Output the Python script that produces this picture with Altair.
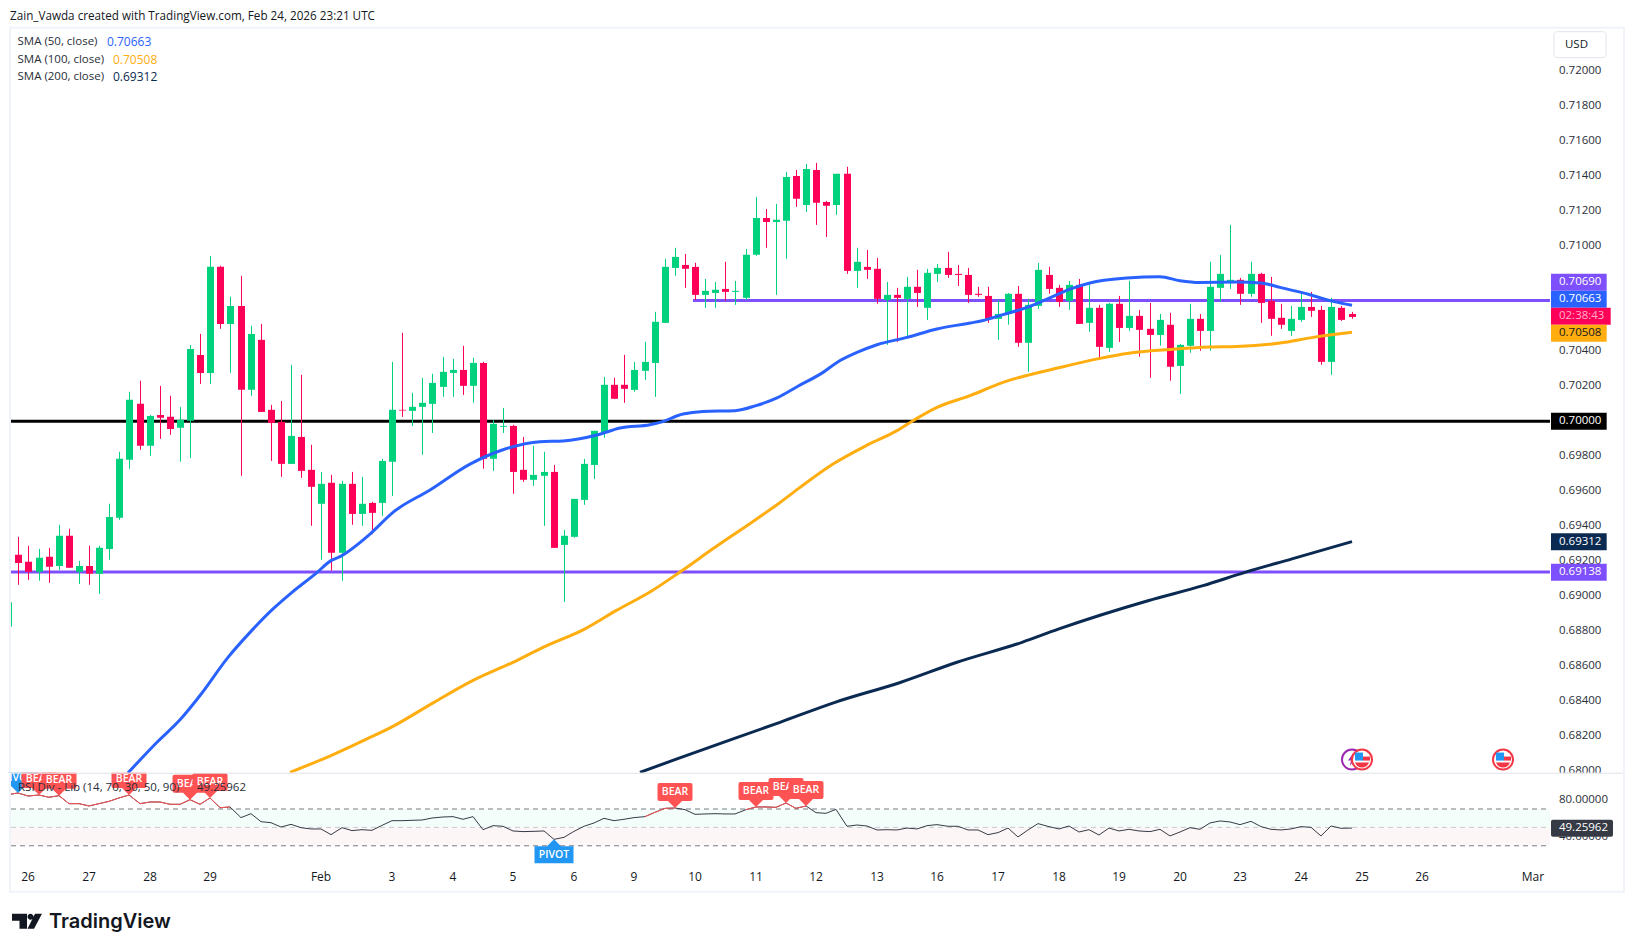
import altair as alt
import pandas as pd

# ---- candles: prices in points (1e-5), bar index -1 .. 132
OPEN = [68826,69236,69196,69139,69225,69173,69345,69139,69173,69128,69270,69448,69779,70099,69859,70036,70025,69962,70002,70379,70276,70882,70556,70659,70179,70465,70065,69996,69756,69910,69722,69528,69648,69248,69642,69470,69533,69533,69768,70065,70059,70082,70099,70196,70276,70293,70202,70333,69785,69968,69973,69722,69665,69688,69710,69293,69339,69550,69750,69933,70208,70208,70179,70288,70333,70562,70876,70893,70882,70722,70733,70756,70739,70705,70951,71162,71139,71145,71402,71236,71436,71253,71236,71414,70859,70882,70871,70693,70722,70699,70768,70648,70842,70876,70842,70836,70728,70716,70585,70613,70728,70448,70659,70836,70762,70688,70779,70562,70648,70419,70671,70533,70602,70528,70493,70551,70316,70431,70585,70516,70762,70791,70808,70728,70842,70688,70591,70516,70579,70653,70636,70339,70648,70613]
HIGH = [68965,69339,69288,69270,69276,69408,69385,69202,69288,69288,69528,69825,70168,70231,70036,70202,70145,70082,70436,70499,70945,70888,70711,70831,70545,70556,70093,70116,70322,70265,69865,69710,69693,69659,69710,69682,69539,69785,70339,70505,70162,70248,70271,70368,70356,70431,70362,70339,70008,70076,69979,69910,69859,69825,69750,69379,69556,69785,69945,70253,70248,70379,70339,70453,70625,70928,70991,70956,70905,70813,70796,70911,70802,70985,71282,71213,71242,71425,71436,71471,71476,71259,71414,71454,70991,70979,70933,70796,70762,70825,70865,70871,70899,70968,70893,70876,70768,70768,70693,70733,70773,70699,70905,70882,70779,70802,70813,70779,70665,70676,70716,70802,70636,70676,70613,70619,70442,70671,70613,70911,70951,71122,70819,70911,70848,70825,70671,70659,70739,70739,70659,70705,70659,70625]
LOW = [68826,69065,69093,69088,69076,69150,69162,69070,69065,69013,69208,69436,69728,69836,69802,69899,69922,69768,69790,70213,70213,70528,70276,69688,70145,70053,69773,69682,69756,69676,69402,69208,69145,69088,69408,69402,69354,69459,69573,70025,69973,69808,69933,70139,70139,70150,70105,69728,69716,69933,69585,69653,69630,69402,69276,68967,69333,69522,69670,69905,70128,70105,70168,70236,70139,70562,70831,70762,70693,70648,70648,70688,70665,70693,70945,70991,70722,70928,71225,71196,71122,71053,71179,70842,70762,70813,70671,70436,70453,70476,70653,70579,70796,70819,70773,70676,70711,70562,70465,70551,70425,70282,70642,70728,70653,70636,70556,70511,70351,70396,70453,70516,70368,70248,70431,70231,70156,70391,70402,70402,70682,70756,70665,70711,70562,70488,70528,70488,70568,70596,70322,70265,70573,70585]
CLOSE = [68965,69190,69139,69219,69168,69345,69162,69173,69128,69276,69453,69785,70122,69859,70030,70019,69956,70008,70413,70276,70882,70556,70659,70179,70499,70053,69990,69756,69916,69716,69625,69642,69248,69642,69470,69528,69476,69773,70065,70061,70082,70105,70219,70282,70293,70202,70333,69785,69985,69973,69710,69665,69693,69710,69276,69345,69556,69756,69945,70208,70128,70185,70293,70339,70568,70882,70939,70871,70722,70745,70751,70739,70745,70951,71162,71139,71151,71396,71271,71442,71248,71231,71414,70859,70911,70865,70699,70722,70705,70768,70733,70848,70876,70836,70836,70722,70722,70585,70613,70728,70448,70665,70865,70756,70682,70779,70556,70648,70425,70671,70533,70602,70522,70493,70579,70311,70436,70585,70516,70768,70842,70808,70728,70842,70676,70585,70551,70585,70653,70631,70339,70653,70579,70596]

# ---- moving averages: (bar index, price in points)
SMA50_X = [10.9,13.7,16.0,18.0,20.8,22.9,25.2,27.1,29.5,31.0,31.9,34.8,37.1,40.8,44.7,48.0,51.7,53.9,57.3,59.6,62.5,63.5,65.8,67.8,71.0,73.0,75.1,77.1,79.7,81.1,83.0,85.0,88.0,91.0,94.2,95.4,97.5,99.9,101.8,104.1,106.1,109.8,113.0,115.0,117.0,120.7,123.0,124.9,127.9,130.2,132.0]
SMA50_Y = [67990,68165,68293,68432,68650,68793,68927,69022,69130,69203,69226,69355,69479,69607,69755,69837,69883,69887,69921,69961,69980,69993,70041,70056,70060,70089,70133,70197,70279,70336,70393,70437,70479,70527,70561,70574,70609,70650,70698,70755,70790,70818,70826,70803,70793,70795,70790,70765,70723,70685,70663]
SMA100_X = [26.9,31.0,34.5,36.9,41.2,45.1,49.0,51.9,56.1,59.2,62.7,65.5,69.0,71.7,75.2,77.2,80.7,83.9,87.0,88.6,91.0,94.2,97.5,103.1,107.1,109.8,114.0,118.0,120.7,124.9,128.2,132.0]
SMA100_Y = [67993,68089,68184,68250,68393,68521,68622,68707,68813,68917,69031,69138,69279,69384,69527,69613,69755,69860,69946,70003,70079,70146,70222,70307,70359,70387,70410,70424,70427,70447,70479,70508]
SMA200_X = [61.6,65.2,75.4,80.9,87.4,92.9,99.4,103.0,111.8,117.3,121.5,126.1,132.0]
SMA200_Y = [67993,68070,68279,68393,68508,68622,68736,68813,68974,69060,69136,69213,69312]

# ---- RSI values, bar index -1 .. 132
RSI = [85.6,87.4,84.1,85.2,82.7,84.5,75.8,75.8,73.3,75.8,78.3,82.0,85.2,75.8,77.6,77.6,75.1,75.1,80.1,75.1,82.0,71.4,72.2,60.6,64.9,56.2,55.1,50.4,53.3,49.7,48.3,48.3,42.1,49.7,46.5,47.5,46.8,52.2,57.3,57.3,57.7,58.0,60.2,61.3,61.7,58.8,61.7,47.5,51.9,51.2,46.1,45.4,45.7,46.1,37.0,39.2,45.7,51.2,54.8,59.9,57.3,58.8,60.6,61.7,66.4,70.7,71.1,69.3,64.2,64.6,64.9,64.6,64.6,69.3,72.2,72.2,71.8,76.5,70.7,73.3,66.0,65.3,69.6,51.2,52.6,51.5,47.2,47.5,47.2,49.3,48.3,51.9,53.0,51.2,51.2,47.2,47.2,42.1,44.3,49.3,39.6,47.2,54.1,50.8,48.3,51.5,45.0,47.5,41.7,49.3,46.1,47.9,46.1,45.4,47.9,40.7,45.0,49.7,47.9,54.8,57.0,55.9,53.0,56.6,50.8,47.9,47.2,48.3,50.8,50.1,40.7,51.5,49.0,49.26]
RED_RUNS = [(-1, 21), (62, 65), (72, 78)]
BEAR_AT = [2, 4, 11, 17, 19, 65, 73, 76, 78]
PIVOT_AT = 53

# ---- axes
DAY_POS = [1,7,13,19,30,37,43,49,55,61,67,73,79,85,91,97,103,109,115,121,127,133,139,150]
DAY_TXT = ["26","27","28","29","Feb","3","4","5","6","9","10","11","12","13","16","17","18","19","20","23","24","25","26","Mar"]
PRICE_TICKS = ["0.68000","0.68200","0.68400","0.68600","0.68800","0.69000","0.69200","0.69400","0.69600","0.69800","0.70000","0.70200","0.70400","0.70600","0.70800","0.71000","0.71200","0.71400","0.71600","0.71800","0.72000"]
RSI_TICKS = ["80.00000", "40.00000"]

# ---- horizontal levels
LEVELS = [0.70000, 0.69138]
LEVEL_COLORS = ["#000000", "#7e4ffc"]
RES_START, RES_LEVEL = 66.8, 0.70690
FLAG_BARS = [133, 147]
EVENT_PRICE = 0.68066

GREEN, RED = "#00d17d", "#ff0058"
BLUE, ORANGE, NAVY, PURPLE = "#2962ff", "#ffad0f", "#0a2a52", "#7e4ffc"
BADGE = "#ff5252"
FRAME = "#f0f3fa"
FONT = "Open Sans"
INK = "#2a2e39"

W, H1, H2 = 1542, 745, 86
X_SCALE = alt.Scale(domain=[-1.0198, 151.65], nice=False, zero=False, round=True, padding=0)
P_SCALE = alt.Scale(domain=[0.67991, 0.72249], nice=False, zero=False)
R_SCALE = alt.Scale(domain=[15.98, 109.46], nice=False, zero=False)
ONE = alt.Data(values=[{"k": 0}])


def X(f="i"):
    return alt.X(f + ":Q", scale=X_SCALE, axis=None)


def PY(f):
    return alt.Y(f + ":Q", scale=P_SCALE, axis=None)


def RY(f):
    return alt.Y(f + ":Q", scale=R_SCALE, axis=None)


def txt(s, x, y, color=INK, size=11.5, **kw):
    kw.setdefault("font", FONT)
    return alt.Chart(ONE).mark_text(text=s, align="left", baseline="middle", fontSize=size, color=color, **kw).encode(
        x=alt.value(x), y=alt.value(y))


def box(x, x2, y, y2, color, **kw):
    return alt.Chart(ONE).mark_rect(color=color, **kw).encode(
        x=alt.value(x), x2=alt.value(x2), y=alt.value(y), y2=alt.value(y2))


idx = list(range(-1, 133))
candles = pd.DataFrame({"i": idx, "o": [v / 1e5 for v in OPEN], "h": [v / 1e5 for v in HIGH],
                        "l": [v / 1e5 for v in LOW], "c": [v / 1e5 for v in CLOSE]})
candles["d"] = ["up" if c >= o else "down" for o, c in zip(OPEN, CLOSE)]
col = alt.Color("d:N", scale=alt.Scale(domain=["up", "down"], range=[GREEN, RED]), legend=None)

price_labels = alt.Chart(pd.DataFrame({"t": PRICE_TICKS, "v": [float(t) for t in PRICE_TICKS]})).mark_text(
    font=FONT, fontSize=11.5, color=INK, align="left", baseline="middle").encode(
    x=alt.value(1551), y=PY("v"), text="t:N")

wicks = alt.Chart(candles).mark_rule(strokeWidth=1, xOffset=0.5, clip=True).encode(x=X(), y=PY("l"), y2="h:Q", color=col)
bodies = alt.Chart(candles).mark_bar(size=7, xOffset=0.5, clip=True).encode(x=X(), y=PY("o"), y2="c:Q", color=col)


def sma(xs, ys, color):
    d = pd.DataFrame({"i": xs, "v": [v / 1e5 for v in ys]})
    return alt.Chart(d).mark_line(color=color, strokeWidth=3, interpolate="monotone", clip=True).encode(x=X(), y=PY("v"))


level_layers = []
for lv, lc in zip(LEVELS, LEVEL_COLORS):
    level_layers.append(alt.Chart(pd.DataFrame({"v": [lv]})).mark_rule(color=lc, strokeWidth=3).encode(
        x=alt.value(3), x2=alt.value(W), y=PY("v")))
res = alt.Chart(pd.DataFrame({"i": [RES_START, 151.65], "v": [RES_LEVEL, RES_LEVEL]})).mark_line(
    color=PURPLE, strokeWidth=3).encode(x=X(), y=PY("v"))

# event icons
flags = pd.DataFrame({"i": FLAG_BARS, "v": [EVENT_PRICE] * len(FLAG_BARS)})
purple_ev = pd.DataFrame({"i": [132], "v": [EVENT_PRICE]})
ring_purple = alt.Chart(purple_ev).mark_point(shape="circle", size=400, fill="white", stroke="#9c27b0", strokeWidth=2, filled=False, opacity=1, fillOpacity=1).encode(x=X(), y=PY("v"))
zap = alt.Chart(purple_ev).mark_point(shape="M1,-6 L-4,1 L-1,1 L-2,6 L4,-1 L1,-1 Z", size=4, filled=True, color="#9c27b0", opacity=1, strokeWidth=0).encode(x=X(), y=PY("v"))
ring = alt.Chart(flags).mark_point(shape="circle", size=400, fill="white", stroke="#f23645", strokeWidth=2, filled=False, opacity=1, fillOpacity=1).encode(x=X(), y=PY("v"))
canton = alt.Chart(flags).mark_point(shape="M-7,-7 L1,-7 L1,1 L-7,1 Z", size=4, filled=True, color="#2196f3", opacity=1, strokeWidth=0).encode(x=X(), y=PY("v"))
stripe = alt.Chart(flags).mark_point(shape="M1,-3 L8,-3 L8,1 L1,1 Z", size=4, filled=True, color="#f23645", opacity=1, strokeWidth=0).encode(x=X(), y=PY("v"))
lower = alt.Chart(flags).mark_point(shape="M-7,3 L7,3 Q5,8 0,8 Q-5,8 -7,3 Z", size=4, filled=True, color="#f23645", opacity=1, strokeWidth=0).encode(x=X(), y=PY("v"))

PANE_TOP = 27
tags = [("0.70690", 281.5, PURPLE, "white", 1598.7), ("0.70663", 298.5, BLUE, "white", 1598.7),
        ("02:38:43", 315.5, RED, "#ffb0cb", 1602.7), ("0.70508", 332.5, ORANGE, "#131722", 1598.7),
        ("0.70000", 420.5, "#000000", "white", 1598.7), ("0.69312", 541, NAVY, "white", 1598.7),
        ("0.69138", 571.5, PURPLE, "white", 1598.7)]
tag_layers = []
for s, yc, bg, fg, xr in tags:
    y = yc - PANE_TOP
    tag_layers.append(box(1543, xr, y - 8.5, y + 8.5, bg))
    tag_layers.append(txt(s, 1551, y, fg))

legend = [txt("SMA (50, close)", 9.5, 14.5), txt("0.70663", 99, 14.5, BLUE, 12),
          txt("SMA (100, close)", 9.5, 32), txt("0.70508", 105, 32, ORANGE, 12),
          txt("SMA (200, close)", 9.5, 49), txt("0.69312", 105, 49, NAVY, 12)]

title = txt("Zain_Vawda created with TradingView.com, Feb 24, 2026 23:21 UTC", 2, -12, "#131722", 11.7)
usd_box = box(1546, 1598, 4, 30, "white", stroke="#e0e3eb", strokeWidth=1, cornerRadius=3)
usd_txt = txt("USD", 1557, 17, "#131722", 11.5)

frame1 = [box(0, 1, -1, H1, "white"), box(1, 3, -1, H1, FRAME), box(1, 1617, -1, 1, FRAME), box(1615, 1617, -1, H1, FRAME)]

price_panel = alt.layer(
    *level_layers, res, wicks, bodies,
    sma(SMA50_X, SMA50_Y, BLUE), sma(SMA100_X, SMA100_Y, ORANGE), sma(SMA200_X, SMA200_Y, NAVY),
    ring_purple, zap, ring, canton, stripe, lower,
    price_labels, *tag_layers, *legend, usd_box, usd_txt, title, *frame1,
).properties(width=W, height=H1)

# ---- RSI pane
rsi = pd.DataFrame({"i": idx, "v": RSI})
rsi_labels = alt.Chart(pd.DataFrame({"t": RSI_TICKS, "v": [float(t) for t in RSI_TICKS]})).mark_text(
    font=FONT, fontSize=11.5, color=INK, align="left", baseline="middle").encode(
    x=alt.value(1551), y=RY("v"), text="t:N")

bands = alt.Chart(pd.DataFrame({"a": [70, 50], "b": [50, 30], "c": ["#f3fdf9", "#fdf6f6"]})).mark_rect().encode(
    x=alt.value(3), x2=alt.value(W), y=RY("a"), y2="b:Q", color=alt.Color("c:N", scale=None))
dash = alt.Chart(pd.DataFrame({"v": [70, 30]})).mark_rule(color="#787b86", strokeWidth=1, strokeDash=[5, 4]).encode(
    x=alt.value(3), x2=alt.value(W), y=RY("v"))
mid = alt.Chart(pd.DataFrame({"v": [50]})).mark_rule(color="#c8cad0", strokeWidth=1, strokeDash=[5, 4]).encode(
    x=alt.value(3), x2=alt.value(W), y=RY("v"))
rsi_line = alt.Chart(rsi).mark_line(color="#363a45", strokeWidth=1).encode(x=X(), y=RY("v"))
red_rows = []
for n, (a, b) in enumerate(RED_RUNS):
    for i in range(a, b + 1):
        red_rows.append({"i": i, "v": RSI[i + 1], "g": n})
rsi_red = alt.Chart(pd.DataFrame(red_rows)).mark_line(color=BADGE, strokeWidth=1, clip=True).encode(x=X(), y=RY("v"), detail="g:N")

BEAR_PATH = ("M0,0 L-7,-7 L-15.5,-7 Q-17.5,-7 -17.5,-9 L-17.5,-23 Q-17.5,-25 -15.5,-25 L15.5,-25 "
             "Q17.5,-25 17.5,-23 L17.5,-9 Q17.5,-7 15.5,-7 L7,-7 Z")
PIVOT_DOWN = ("M0,0 L-7,-7 L-19.5,-7 L-19.5,-24 L19.5,-24 L19.5,-7 L7,-7 Z")
PIVOT_UP = ("M0,0 L-7,7 L-19.5,7 L-19.5,24 L19.5,24 L19.5,7 L7,7 Z")


def flag(i, path, color, label, dy, clip=True):
    d = pd.DataFrame({"i": [i], "v": [RSI[i + 1]]})
    a = alt.Chart(d).mark_point(shape=path, size=4, filled=True, color=color, opacity=1, strokeWidth=0, clip=clip).encode(x=X(), y=RY("v"))
    b = alt.Chart(d).mark_text(text=label, color="white", font=FONT, fontSize=10.5, fontWeight=600, dy=dy, clip=clip).encode(x=X(), y=RY("v"))
    return [a, b]


badges = flag(0, PIVOT_DOWN, "#2196f3", "PIVOT", -15)
for b in BEAR_AT:
    badges += flag(b, BEAR_PATH, BADGE, "BEAR", -16)
badges += flag(PIVOT_AT, PIVOT_UP, "#2196f3", "PIVOT", 15.5, clip=False)

ticks = alt.Chart(pd.DataFrame({"i": DAY_POS, "t": DAY_TXT})).mark_text(
    font=FONT, fontSize=12, color="#131722", baseline="middle", align="center").encode(
    x=X(), y=alt.value(104.5), text="t:N")

LOGO = ("M-15,-8 L0,-8 L0,7 L-7.5,7 L-7.5,-1 L-15,-1 Z "
        "M0.5,-5 A3,3 0 1 1 6.5,-5 A3,3 0 1 1 0.5,-5 Z "
        "M8,-8 L15,-8 L7,7 L0.5,7 Z")
logo = alt.Chart(ONE).mark_point(shape=LOGO, size=4, filled=True, color="#131722", opacity=1, strokeWidth=0).encode(
    x=alt.value(19), y=alt.value(149))
wordmark = txt("TradingView", 41, 149.5, "#131722", 20, fontWeight=600, font="Inter")

rsi_panel = alt.layer(
    box(W, 1615, 0, H2, "white"), rsi_labels, bands, dash, mid, rsi_line, rsi_red, *badges,
    txt("RSI Div - Lib (14, 70, 30, 50, 90)", 10, 15.5, "#2a2e39", 11.5), txt("49.25962", 189, 15.5, "#2a2e39", 11.5),
    box(1543, 1605, 47, 64, "#363a45", cornerRadius=2), txt("49.25962", 1551, 55.5, "white"),
    ticks,
    box(0, 1, 0, 120, "white"), box(1, 3, 0, 120, FRAME), box(1, 1617, 118, 120, FRAME), box(1615, 1617, 0, 120, FRAME),
    box(3, 1615, 0, 1, "#e0e3eb"),
    logo, wordmark,
).properties(width=W, height=H2)

chart = alt.vconcat(price_panel, rsi_panel, spacing=0, bounds="flush").resolve_scale(x="independent").configure_view(stroke=None).properties(
    padding={"left": -2, "top": 2.7, "right": 0, "bottom": 0}, background="white")
chart.save("out.html", embed_options={"renderer": "svg", "actions": False})
